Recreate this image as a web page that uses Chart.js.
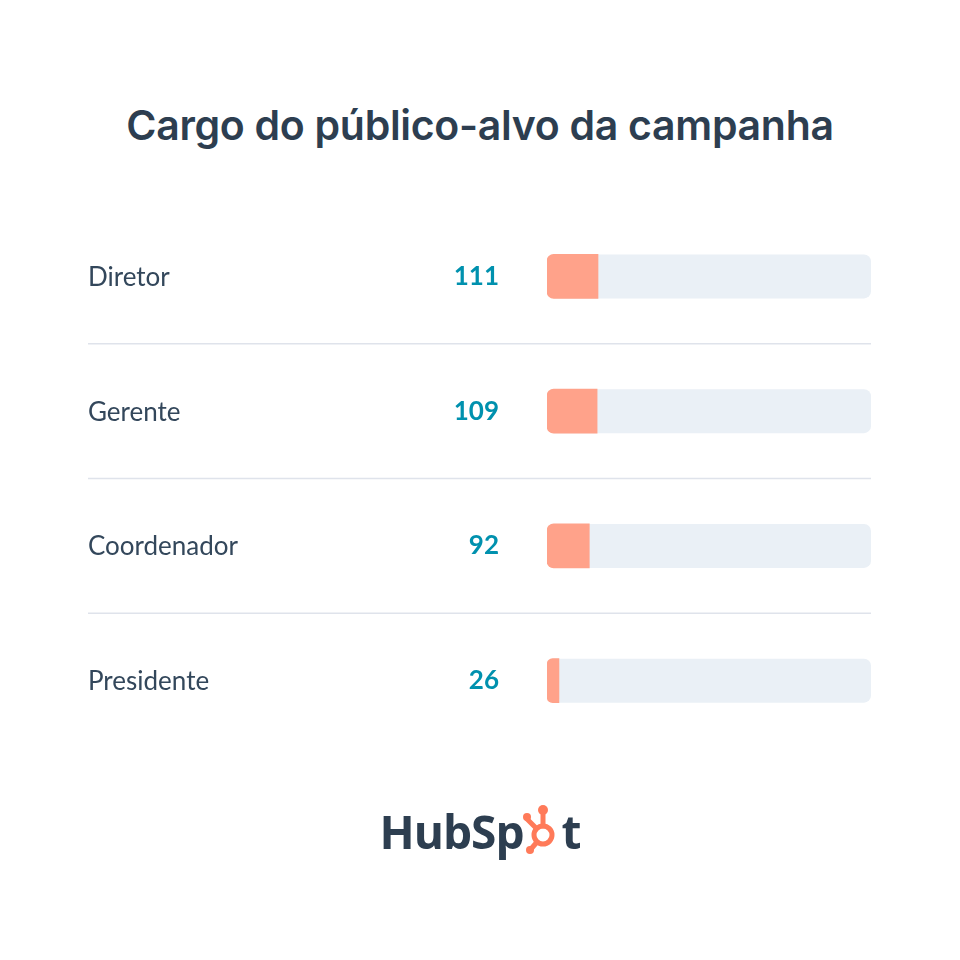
<!DOCTYPE html>
<html>
<head>
<meta charset="utf-8">
<script src="https://cdn.jsdelivr.net/npm/chart.js@4"></script>
<style>
  body { margin: 0; background: #fff; }
  #wrap { position: relative; width: 960px; height: 960px; overflow: hidden; }
  #grafica { position: absolute; left: 0; top: 0; }
  #titulo {
    position: absolute; left: 0; width: 960px; top: 100px; text-align: center;
    font-family: Inter, "Noto Sans", sans-serif; font-weight: 600; font-size: 41px;
    color: #2d3e50; letter-spacing: -0.3px;
  }
  #logo {
    position: absolute; left: 0; width: 960px; top: 800px; text-align: center;
    font-family: "Open Sans", "Noto Sans", sans-serif; font-weight: 700; font-size: 46px;
    color: #2d3e50; letter-spacing: -1px;
  }
  #logo svg { vertical-align: -6px; margin: 0 -1px; }
</style>
</head>
<body>
<div id="wrap">
  <div id="titulo">Cargo do público-alvo da campanha</div>
  <canvas id="grafica" width="960" height="960"></canvas>
  <div id="logo" aria-label="HubSpot">HubSp<svg width="40" height="52" viewBox="0 0 40 52"><g fill="none" stroke="#ff7a59" stroke-width="5" stroke-linecap="round"><circle cx="20" cy="32" r="9"/><line x1="20" y1="23" x2="20" y2="10"/><line x1="13" y1="25" x2="4" y2="16"/><line x1="14" y1="39" x2="8" y2="46"/></g><g fill="#ff7a59"><circle cx="20" cy="7" r="5"/><circle cx="4" cy="14" r="4"/><circle cx="7" cy="47" r="4"/></g></svg>t</div>
</div>
<script>
const cargos = ["Diretor", "Gerente", "Coordenador", "Presidente"];
const valores = [111, 109, 92, 26];
const escalaMax = 705;

const filas = {
  id: "filas",
  beforeDatasetsDraw(chart) {
    const { ctx, chartArea, scales } = chart;
    ctx.save();
    ctx.fillStyle = "#eaf0f6";
    cargos.forEach((c, i) => {
      const y = scales.y.getPixelForValue(i);
      ctx.beginPath();
      ctx.roundRect(chartArea.left, y - 22, chartArea.right - chartArea.left, 44, 7);
      ctx.fill();
    });
    ctx.restore();
  },
  afterDatasetsDraw(chart) {
    const { ctx, chartArea, scales } = chart;
    ctx.save();
    ctx.textBaseline = "middle";
    cargos.forEach((c, i) => {
      const y = scales.y.getPixelForValue(i);
      ctx.font = "400 26px Lato, 'Noto Sans', sans-serif";
      ctx.fillStyle = "#33475b";
      ctx.textAlign = "left";
      ctx.fillText(c, 88, y + 1);
      ctx.font = "700 26px Lato, 'Noto Sans', sans-serif";
      ctx.fillStyle = "#0091ae";
      ctx.textAlign = "right";
      ctx.fillText(String(valores[i]), 499, y);
      if (i < cargos.length - 1) {
        const yl = (y + scales.y.getPixelForValue(i + 1)) / 2;
        ctx.strokeStyle = "#dfe3eb";
        ctx.lineWidth = 1.5;
        ctx.beginPath();
        ctx.moveTo(88, yl);
        ctx.lineTo(chartArea.right, yl);
        ctx.stroke();
      }
    });
    ctx.restore();
  }
};

new Chart(document.getElementById("grafica").getContext("2d"), {
  type: "bar",
  data: {
    labels: cargos,
    datasets: [{
      data: valores,
      backgroundColor: "#ffa28a",
      barThickness: 44,
      borderSkipped: false,
      borderRadius: { topLeft: 7, bottomLeft: 7, topRight: 0, bottomRight: 0 }
    }]
  },
  options: {
    indexAxis: "y",
    responsive: false,
    devicePixelRatio: 1,
    animation: false,
    layout: { padding: { left: 547, right: 89, top: 209, bottom: 212 } },
    plugins: { legend: { display: false }, tooltip: { enabled: false } },
    scales: {
      x: { display: false, min: 0, max: escalaMax },
      y: { display: false }
    }
  },
  plugins: [filas]
});
</script>
</body>
</html>
